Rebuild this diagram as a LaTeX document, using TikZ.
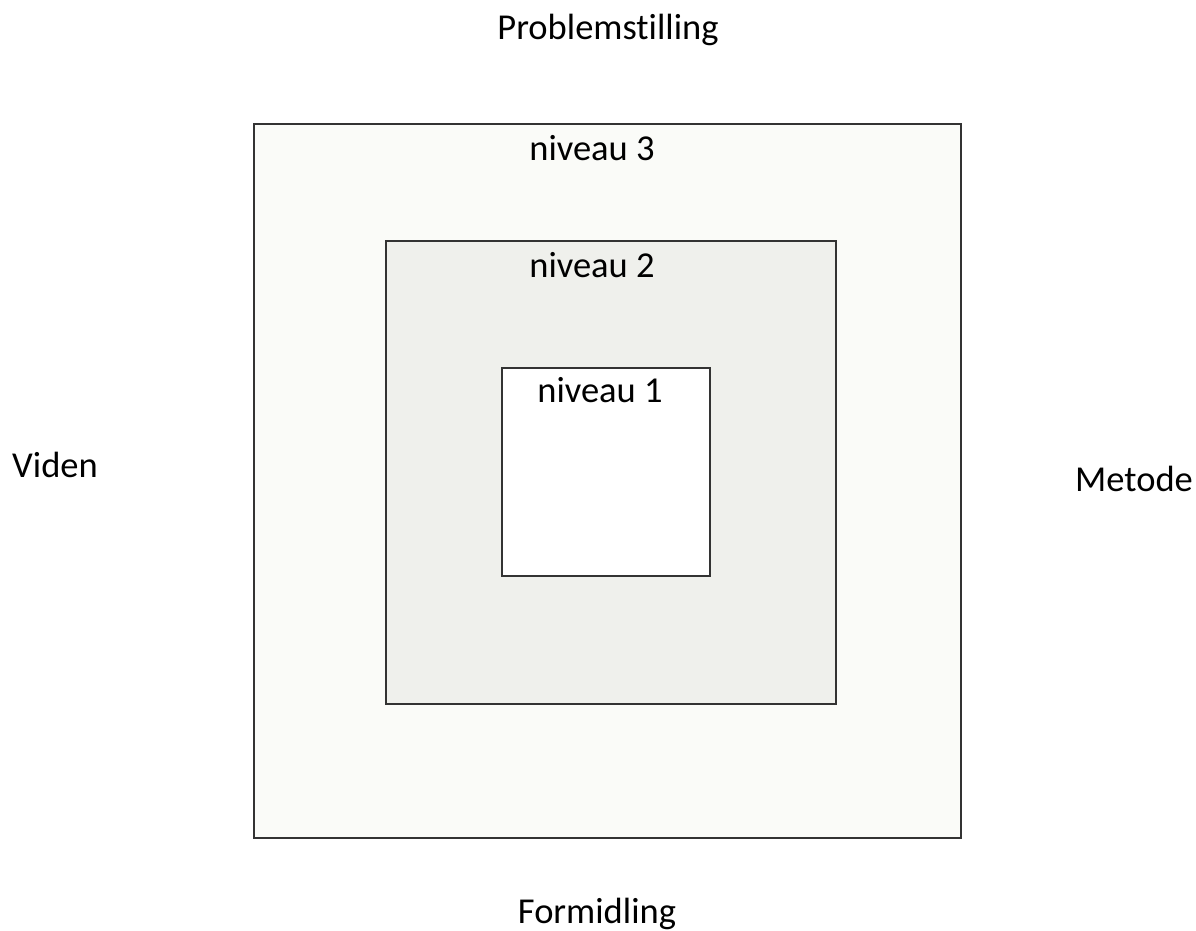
\documentclass[tikz,border=0pt]{standalone}
\usepackage{fontspec}
\setmainfont{Carlito}[Ligatures={NoCommon}]
\definecolor{outerfill}{HTML}{FAFBF8}
\definecolor{midfill}{HTML}{EFF0EC}
\definecolor{edge}{HTML}{333333}
\begin{document}
\begin{tikzpicture}[x=1pt,y=-1pt,
  box/.style={draw=edge,line width=2pt},
  lbl/.style={font=\fontsize{36.5}{40}\selectfont,anchor=base,inner sep=0pt}]
\useasboundingbox (0,0) rectangle (1196,930);
\draw[box,fill=outerfill] (254,124) rectangle (961,838);
\draw[box,fill=midfill] (386,241) rectangle (836,704);
\draw[box,fill=white] (502,368) rectangle (710,576);
\node[lbl] (n3) at (592,160) {niveau 3};
\node[lbl] (n2) at (592,277) {niveau 2};
\node[lbl] (n1) at (600,402) {niveau 1};
\node[lbl] (p) at (608,39) {Problemstilling};
\node[lbl] (v) at (55,477) {Viden};
\node[lbl] (m) at (1134,491) {Metode};
\node[lbl] (f) at (597,923) {Formidling};
\end{tikzpicture}
\end{document}
